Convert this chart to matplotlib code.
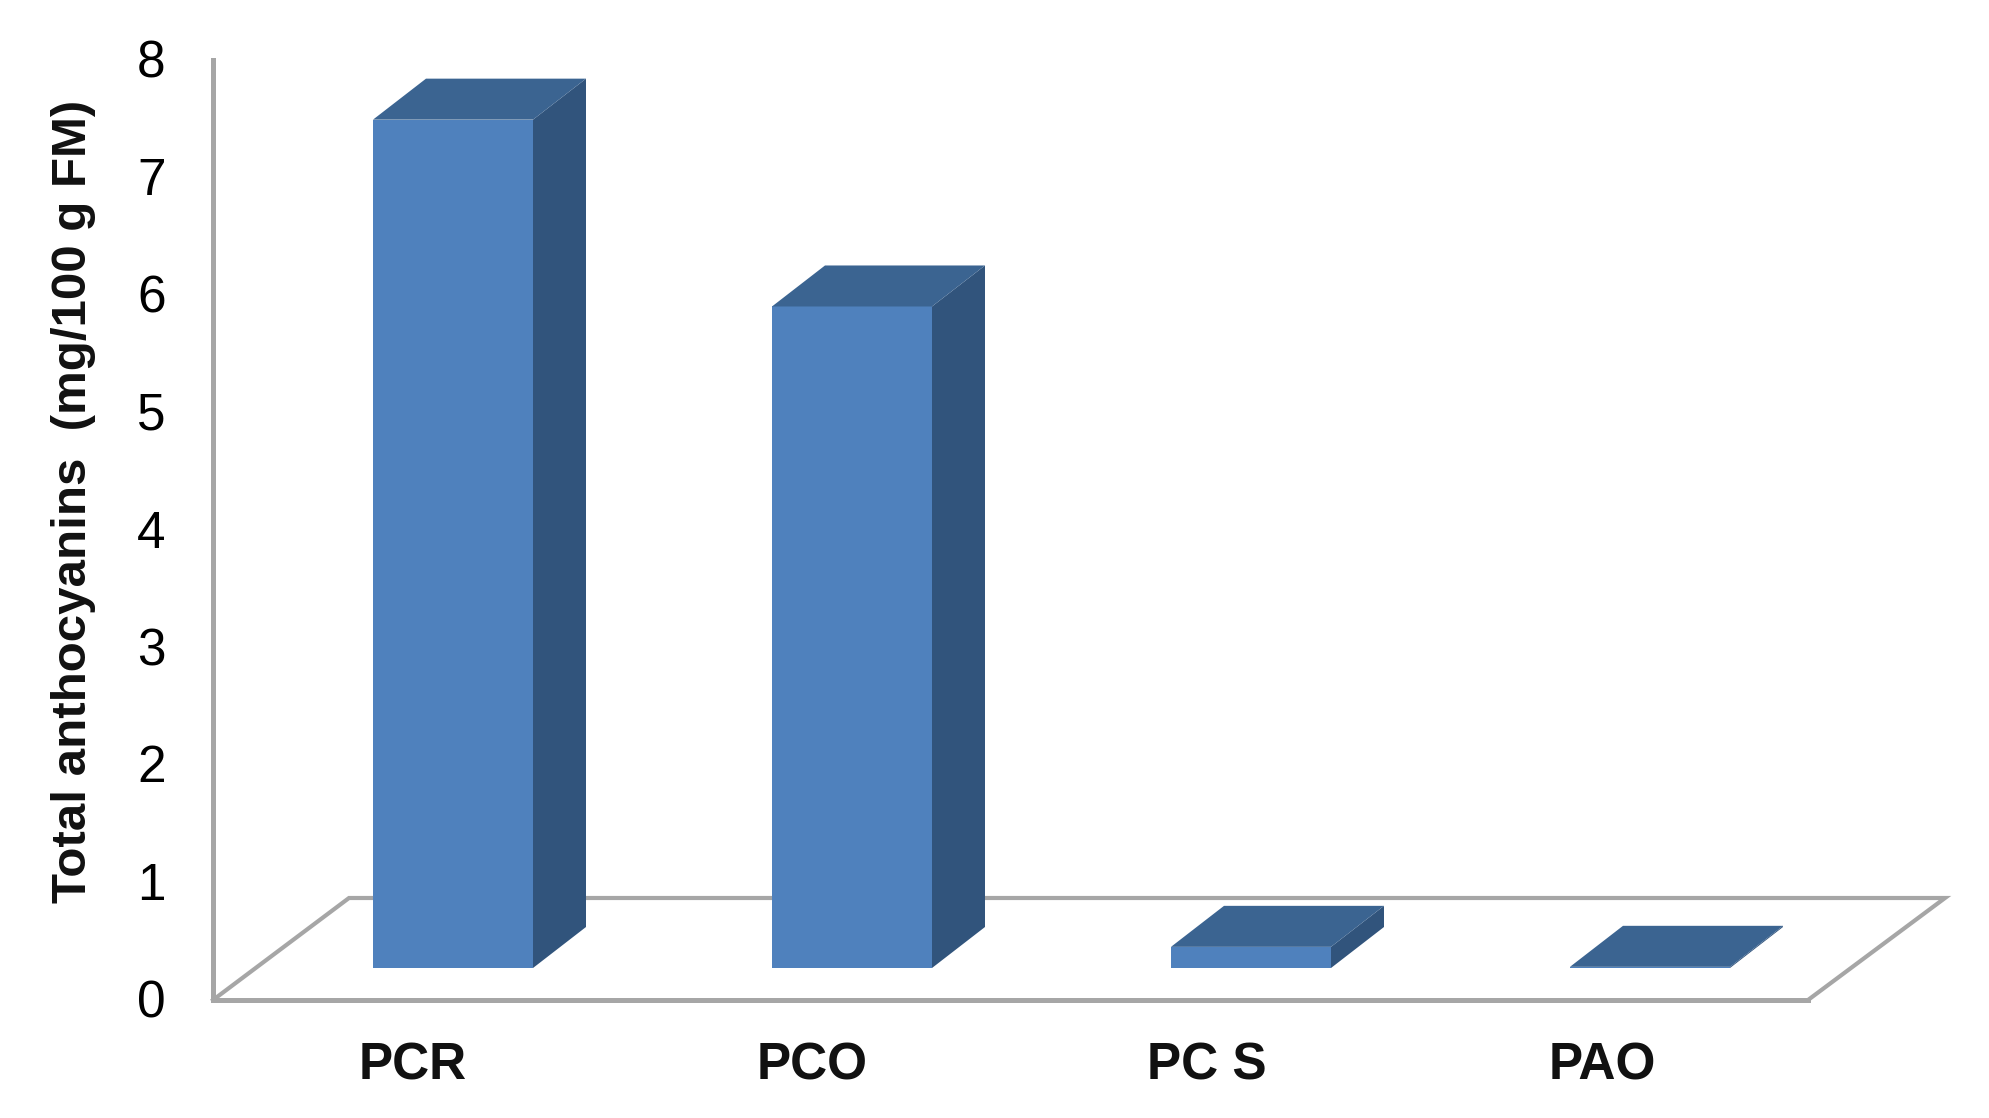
import matplotlib
matplotlib.use("Agg")
import matplotlib.pyplot as plt
from matplotlib.patches import Polygon
from matplotlib.transforms import ScaledTranslation

categories = ["PCR", "PCO", "PC S", "PAO"]
values = [7.22, 5.63, 0.18, 0.01]
y_ticks = [0, 1, 2, 3, 4, 5, 6, 7, 8]
y_label = "Total anthocyanins  (mg/100 g FM)"

W, H = 1990, 1118
DPI = 100
FRONT, SIDE, TOP = "#4F81BD", "#31547C", "#3B6491"
GRID = "#A6A6A6"
FONT = "Liberation Sans"

fig = plt.figure(figsize=(W / DPI, H / DPI), dpi=DPI, facecolor="white")
L, R, T, B = 213, 1945, 60, 1000
ax = fig.add_axes([L / W, 1 - B / H, (R - L) / W, (B - T) / H])
px_x = 399.0
px_y = (B - T) / 8
ax.set_xlim(-(453 - L) / px_x, (R - 453) / px_x)
ax.set_ylim(0, 8)

bar_w = 160 / px_x
base = 32 / px_y
dx = 53 / px_x
dy = 41 / px_y

# Floor outline
x0 = ax.get_xlim()[0]
x_front_r = (1808 - 453) / px_x
x_back_l = (349 - 453) / px_x
x_back_r = ax.get_xlim()[1]
y_back = 102 / px_y
ax.plot([x0, x_back_l, x_back_r, x_front_r], [0, y_back, y_back, 0],
        color=GRID, lw=3.0, solid_joinstyle="miter", clip_on=False, zorder=1)

for i, v in enumerate(values):
    l, r = i - bar_w / 2, i + bar_w / 2
    top = base + v
    ax.bar(i, v, width=bar_w, bottom=base, color=FRONT, linewidth=0, zorder=3)
    ax.add_patch(Polygon([(r, base), (r + dx, base + dy), (r + dx, top + dy), (r, top)],
                         closed=True, facecolor=SIDE, edgecolor="none", zorder=3))
    ax.add_patch(Polygon([(l, top), (l + dx, top + dy), (r + dx, top + dy), (r, top)],
                         closed=True, facecolor=TOP, edgecolor="none", zorder=3))

for s in ("top", "right"):
    ax.spines[s].set_visible(False)
for s in ("left", "bottom"):
    ax.spines[s].set_color(GRID)
    ax.spines[s].set_linewidth(3.6)
ax.spines["bottom"].set_bounds(x0, x_front_r)

ax.set_yticks(y_ticks)
ax.set_yticklabels([str(t) for t in y_ticks], fontsize=37, family=FONT, color="black")
ax.tick_params(axis="y", length=0, pad=34)
for lab in ax.get_yticklabels():
    lab.set_transform(lab.get_transform() + ScaledTranslation(0, 0.015, fig.dpi_scale_trans))

ax.set_xticks(range(len(categories)))
ax.set_xticklabels(categories, fontsize=37, family=FONT, fontweight="bold", color="#111111")
ax.tick_params(axis="x", length=0, pad=30)
label_shift = [-0.40, -0.40, -0.44, -0.48]
for lab, sh in zip(ax.get_xticklabels(), label_shift):
    lab.set_transform(lab.get_transform() + ScaledTranslation(sh, 0, fig.dpi_scale_trans))

fig.text(74 / W, 1 - 501 / H, y_label, rotation=90, ha="center", va="center",
         fontsize=35.5, family=FONT, fontweight="bold", color="#111111")

fig.savefig("out.png", dpi=DPI, facecolor="white")
